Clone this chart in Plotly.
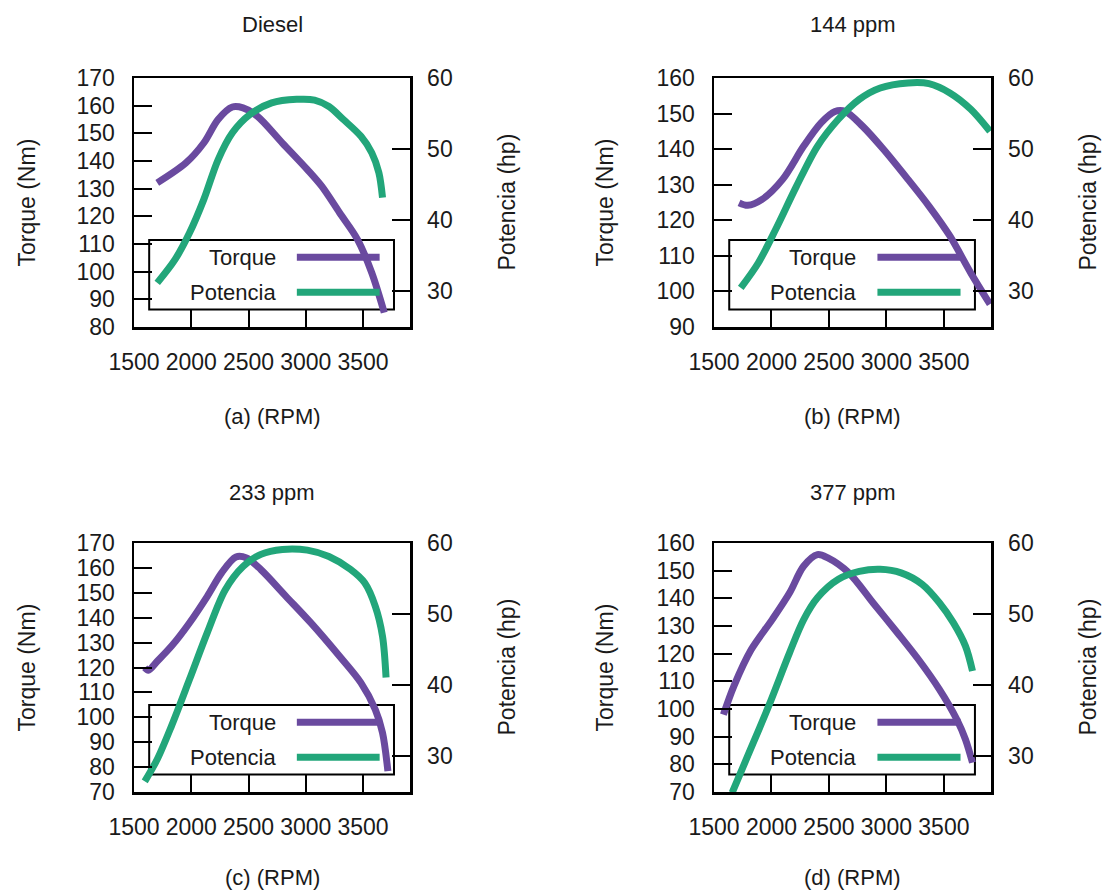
import plotly.graph_objects as go

# ---------------- data ----------------
panel_titles = ["Diesel", "144 ppm", "233 ppm", "377 ppm"]
x_titles = ["(a) (RPM)", "(b) (RPM)", "(c) (RPM)", "(d) (RPM)"]
rpm_ticks = [1500, 2000, 2500, 3000, 3500]
power_ticks = [30, 40, 50, 60]
legend_names = ["Torque", "Potencia"]

torque_ranges = [[80, 170], [90, 160], [70, 170], [70, 160]]
power_range = [25, 60]
rpm_range = [1500, 3910]

# (a) Diesel
rpm_torque_a = [1703, 1953, 2109, 2234, 2359, 2452, 2577, 2796, 3014, 3139, 3295, 3451, 3576, 3685]
torque_a = [132.1, 139.3, 146.5, 155.0, 159.5, 159.2, 156.2, 146.5, 136.9, 130.9, 121.3, 111.7, 99.6, 85.2]
rpm_power_a = [1703, 1859, 1984, 2109, 2234, 2359, 2515, 2702, 2921, 3077, 3202, 3326, 3482, 3576, 3638, 3670]
power_a = [31.2, 34.5, 38.2, 42.9, 48.5, 52.3, 54.9, 56.5, 57.0, 56.9, 56.0, 54.2, 51.8, 49.5, 46.7, 43.2]

# (b) 144 ppm
rpm_torque_b = [1718, 1794, 1915, 2097, 2279, 2431, 2552, 2643, 2794, 2976, 3188, 3370, 3552, 3734, 3901]
torque_b = [124.9, 124.2, 125.8, 131.5, 140.8, 147.4, 150.6, 150.6, 146.4, 139.9, 131.5, 124.0, 115.6, 105.2, 96.4]
rpm_power_b = [1733, 1885, 2036, 2218, 2400, 2582, 2764, 2946, 3188, 3370, 3552, 3734, 3901]
power_b = [30.5, 34.0, 38.7, 44.8, 50.4, 54.2, 57.0, 58.6, 59.3, 59.2, 57.9, 55.6, 52.5]

# (c) 233 ppm
rpm_torque_c = [1594, 1625, 1703, 1828, 1984, 2140, 2265, 2390, 2483, 2608, 2827, 3045, 3295, 3482, 3607, 3670, 3717]
torque_c = [119.9, 118.9, 122.5, 128.6, 137.9, 148.6, 158.0, 164.4, 164.0, 159.3, 148.6, 137.9, 124.5, 113.8, 103.1, 93.8, 78.4]
rpm_power_c = [1594, 1703, 1828, 1984, 2140, 2296, 2452, 2608, 2796, 3014, 3202, 3389, 3514, 3607, 3670, 3701]
power_c = [26.5, 29.6, 34.3, 40.8, 47.4, 53.4, 56.7, 58.4, 59.1, 59.0, 58.1, 56.3, 54.4, 51.1, 46.9, 41.1]

# (d) 377 ppm
rpm_torque_d = [1582, 1673, 1824, 2006, 2158, 2279, 2400, 2491, 2673, 2885, 3097, 3279, 3461, 3613, 3688, 3749]
torque_d = [98.0, 108.3, 121.5, 132.3, 142.0, 151.6, 155.8, 154.6, 149.2, 138.3, 127.5, 117.9, 107.1, 96.2, 89.0, 80.6]
rpm_power_d = [1658, 1794, 1976, 2158, 2279, 2400, 2582, 2764, 2946, 3128, 3310, 3461, 3582, 3688, 3749]
power_d = [24.9, 30.1, 37.1, 44.6, 49.2, 52.3, 54.9, 56.0, 56.3, 55.8, 54.2, 51.6, 48.8, 45.5, 42.0]

torque_series = [(rpm_torque_a, torque_a), (rpm_torque_b, torque_b),
                 (rpm_torque_c, torque_c), (rpm_torque_d, torque_d)]
power_series = [(rpm_power_a, power_a), (rpm_power_b, power_b),
                (rpm_power_c, power_c), (rpm_power_d, power_d)]

# ---------------- styling ----------------
PURPLE = "#6A4A9F"
GREEN = "#22A67A"
TXT = "#1a1a1a"
FONT = "Liberation Sans, Arial, sans-serif"
FS = 22
FS_TICK = 23
FS_BIG = 23
W, H = 1105, 893

col_dom = [[134 / W, 410 / W], [714 / W, 991 / W]]
row_dom = [[1 - 327 / H, 1 - 78 / H], [1 - 792 / H, 1 - 543 / H]]
title_y_px = [25, 492]
xtitle_y_px = [416, 877]
left_title_x_px = [27, 605]
right_title_x_px = [507, 1088]

fig = go.Figure()
layout = dict(
    width=W, height=H, autosize=False,
    margin=dict(l=0, r=0, t=0, b=0, pad=0, autoexpand=False),
    paper_bgcolor="white", plot_bgcolor="white",
    showlegend=False,
    font=dict(family=FONT, size=FS, color=TXT),
)
annotations = []
shapes = []

axis_common = dict(showgrid=False, zeroline=False, showline=True, linecolor="black",
                   linewidth=2.5, ticks="inside", ticklen=18, tickwidth=2,
                   tickcolor="black", automargin=False,
                   tickfont=dict(family=FONT, size=FS_TICK, color=TXT))

for i in range(4):
    r, c = divmod(i, 2)
    xn = "" if i == 0 else str(i + 1)
    yl = str(2 * i + 1) if i > 0 else ""
    yr = str(2 * i + 2)
    xref, ylref, yrref = "x" + xn, "y" + yl, "y" + yr

    rx, ty = torque_series[i]
    fig.add_trace(go.Scatter(x=rx, y=ty, mode="lines", name=legend_names[0],
                             line=dict(color=PURPLE, width=7, shape="spline", smoothing=0.9),
                             xaxis=xref, yaxis=ylref, cliponaxis=True))
    rp, pw = power_series[i]
    fig.add_trace(go.Scatter(x=rp, y=pw, mode="lines", name=legend_names[1],
                             line=dict(color=GREEN, width=7, shape="spline", smoothing=0.9),
                             xaxis=xref, yaxis=yrref, cliponaxis=True))

    layout["xaxis" + xn] = dict(axis_common, domain=col_dom[c], anchor=ylref,
                                range=rpm_range, tickvals=rpm_ticks, mirror=True,
                                ticklabelstandoff=13)
    tr = torque_ranges[i]
    layout["yaxis" + yl] = dict(axis_common, domain=row_dom[r], anchor=xref,
                                range=tr, tickvals=list(range(tr[0], tr[1] + 1, 10)),
                                mirror=True, ticklabelstandoff=12)
    layout["yaxis" + yr] = dict(axis_common, domain=row_dom[r], anchor=xref,
                                overlaying=ylref, side="right", range=power_range,
                                tickvals=power_ticks, ticklabelstandoff=10)

    xc = (col_dom[c][0] + col_dom[c][1]) / 2
    yc = (row_dom[r][0] + row_dom[r][1]) / 2
    annotations += [
        dict(text=panel_titles[i], x=xc, y=1 - title_y_px[r] / H, xref="paper", yref="paper",
             showarrow=False, xanchor="center", yanchor="middle", font=dict(size=FS)),
        dict(text=x_titles[i], x=xc, y=1 - xtitle_y_px[r] / H, xref="paper", yref="paper",
             showarrow=False, xanchor="center", yanchor="middle", font=dict(size=FS)),
        dict(text="Torque (Nm)", x=left_title_x_px[c] / W, y=yc, xref="paper", yref="paper",
             showarrow=False, textangle=-90, xanchor="center", yanchor="middle",
             font=dict(size=FS_BIG)),
        dict(text="Potencia (hp)", x=right_title_x_px[c] / W, y=yc, xref="paper", yref="paper",
             showarrow=False, textangle=-90, xanchor="center", yanchor="middle",
             font=dict(size=FS_BIG)),
    ]

    # gnuplot-style key box: text right-justified, line sample to its right
    dx, dy = xref + " domain", ylref + " domain"
    shapes.append(dict(type="rect", xref=dx, yref=dy, x0=0.055, x1=0.942, y0=0.07, y1=0.349,
                       line=dict(color="black", width=2), fillcolor="rgba(0,0,0,0)", layer="below"))
    for name, col, ky in [(legend_names[0], PURPLE, 0.28), (legend_names[1], GREEN, 0.14)]:
        annotations.append(dict(text=name, x=0.52, y=ky, xref=dx, yref=dy, showarrow=False,
                                xanchor="right", yanchor="middle", font=dict(size=FS)))
        shapes.append(dict(type="line", xref=dx, yref=dy, x0=0.59, x1=0.89, y0=ky, y1=ky,
                           line=dict(color=col, width=7), layer="above"))

layout["annotations"] = annotations
layout["shapes"] = shapes
fig.update_layout(**layout)
fig.write_html("out.html",
               config={"displayModeBar": False, "staticPlot": True},
               post_script="document.body.style.margin='0';document.body.style.overflow='hidden';")
